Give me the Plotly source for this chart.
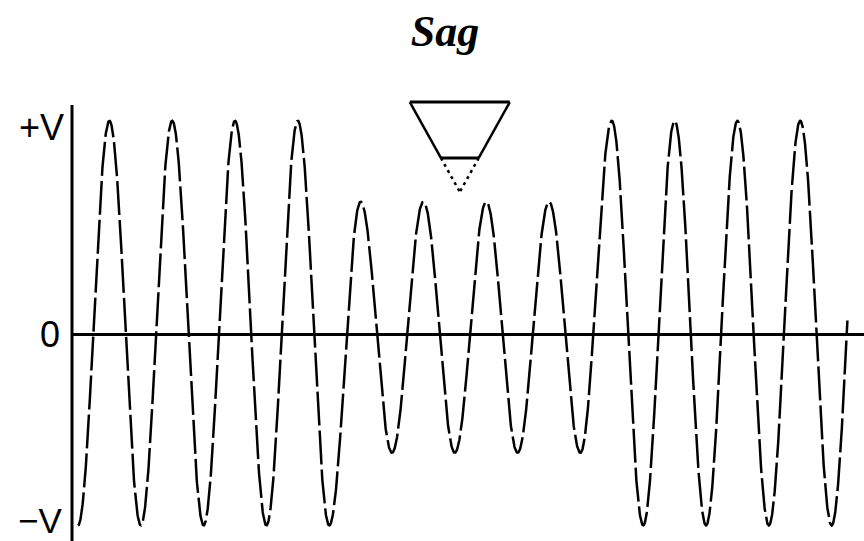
import numpy as np
import plotly.graph_objects as go

# ---- data (units: +V = 1, time in cycles) ----
peak_values = [1.03, 1.03, 1.03, 1.03,        # normal
               0.64, 0.64, 0.64, 0.64,        # sag
               1.03, 1.03, 1.03, 1.03,        # recovered
               1.03]                          # peak the final rise heads to
trough_values = [-0.92, -0.92, -0.92, -0.92, -0.92,
                 -0.57, -0.57, -0.57, -0.57,
                 -0.92, -0.92, -0.92, -0.92]
t_end = 12.252
level_labels = ["+V", "0", "\u2212V"]
level_values = [1.0, 0.0, -0.895]
title_text = "Sag"

# ---- build the waveform: cosine between successive extrema ----
extrema = []
for i in range(len(trough_values)):
    extrema.append(trough_values[i])
    if i < len(peak_values):
        extrema.append(peak_values[i])
extrema = np.array(extrema)

t = np.linspace(0, t_end, 3000)
k = np.floor(2 * t).astype(int)
s = 2 * t - k
a = extrema[k]
b = extrema[k + 1]
y = (a + b) / 2 + (a - b) / 2 * np.cos(np.pi * s)

fig = go.Figure()
fig.add_trace(go.Scatter(x=t, y=y, mode="lines",
                         line=dict(color="black", width=2.5, dash="34px,5px"),
                         hoverinfo="skip", showlegend=False))

# ---- axis lines ----
x_axis_pos = -0.0955
fig.add_shape(type="line", x0=x_axis_pos, x1=13.0, y0=0, y1=0,
              line=dict(color="black", width=3))
fig.add_shape(type="line", x0=x_axis_pos, x1=x_axis_pos, y0=1.106, y1=-1.2,
              line=dict(color="black", width=3))

# ---- level labels ----
label_x = [-0.19, -0.25, -0.23]
label_size = [36, 36, 35]
for lab, v, lx, fs in zip(level_labels, level_values, label_x, label_size):
    fig.add_annotation(x=lx, y=v, text=lab, showarrow=False, xanchor="right",
                       yanchor="middle",
                       font=dict(family="Liberation Sans", size=fs, color="black"))

# ---- sag symbol (inverted triangle) ----
tc, half_w = 6.08, 0.796
v_top, v_mid, v_apex = 1.12, 0.851, 0.687
frac = (v_top - v_mid) / (v_top - v_apex)
xm_l = tc - half_w + half_w * frac
xm_r = tc + half_w - half_w * frac
solid = dict(color="black", width=3)
fig.add_shape(type="line", x0=tc - half_w, x1=tc + half_w, y0=v_top, y1=v_top, line=solid)
fig.add_shape(type="line", x0=tc - half_w, x1=xm_l, y0=v_top, y1=v_mid, line=dict(color="black", width=2.5))
fig.add_shape(type="line", x0=tc + half_w, x1=xm_r, y0=v_top, y1=v_mid, line=dict(color="black", width=2.5))
fig.add_shape(type="line", x0=xm_l, x1=xm_r, y0=v_mid, y1=v_mid, line=solid)
dotted = dict(color="black", width=2.5, dash="3px,4px")
fig.add_shape(type="line", x0=xm_l, x1=tc, y0=v_mid, y1=v_apex, line=dotted)
fig.add_shape(type="line", x0=xm_r, x1=tc, y0=v_mid, y1=v_apex, line=dotted)

fig.update_layout(
    width=864, height=541,
    margin=dict(l=0, r=0, t=0, b=0),
    paper_bgcolor="white", plot_bgcolor="white",
    title=dict(text=title_text, x=445 / 864, xanchor="center",
               y=1 - 31 / 541, yanchor="middle", yref="container",
               font=dict(family="Liberation Serif", size=44, color="black",
                         weight="bold", style="italic")),
    xaxis=dict(range=[-1.242, 12.516], visible=False, fixedrange=True),
    yaxis=dict(range=[-0.995, 1.612], visible=False, fixedrange=True),
    showlegend=False,
)

fig.write_html("out.html", config={"displayModeBar": False},
               post_script="document.body.style.margin='0';document.body.style.overflow='hidden';")
